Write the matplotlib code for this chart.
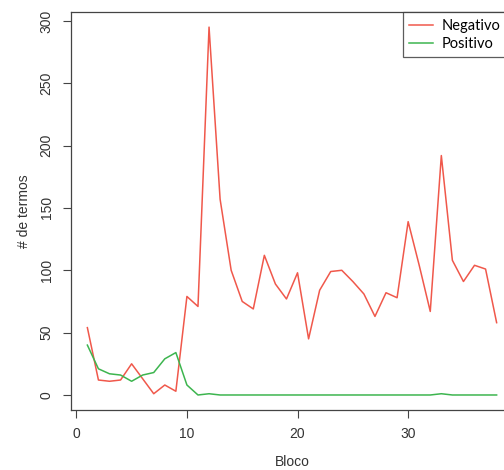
import matplotlib
matplotlib.use("Agg")
import matplotlib.pyplot as plt

# blocos 1..38
blocos = list(range(1, 39))
negativo = [54, 12, 11, 12, 25, 13, 1, 8, 3, 79,
            71, 295, 157, 100, 75, 69, 112, 89, 77, 98,
            45, 84, 99, 100, 91, 81, 63, 82, 78, 139,
            104, 67, 192, 108, 91, 104, 101, 58]
positivo = [40, 21, 17, 16, 11, 16, 18, 29, 34, 8,
            0, 1, 0, 0, 0, 0, 0, 0, 0, 0,
            0, 0, 0, 0, 0, 0, 0, 0, 0, 0,
            0, 0, 1, 0, 0, 0, 0, 0]

NEG_COLOR = "#F0584B"
POS_COLOR = "#3DB54F"

plt.rcParams["font.family"] = ["Liberation Sans", "DejaVu Sans"]

fig = plt.figure(figsize=(5.04, 4.70), dpi=100)
ax = fig.add_axes([71 / 504, 1 - 409.7 / 470, (513 - 71) / 504, (409.7 - 12.4) / 470])

ax.plot(blocos, negativo, "-", color=NEG_COLOR, lw=1.1, label="Negativo")
ax.plot(blocos, positivo, "-", color=POS_COLOR, lw=1.1, label="Positivo")

ax.set_xlim(-0.48, 39.48)
ax.set_ylim(-11.8, 306.8)
ax.set_xticks([0, 10, 20, 30])
ax.set_yticks([0, 50, 100, 150, 200, 250, 300])
ax.tick_params(direction="out", length=5.5, width=0.8, color="#444444",
               labelsize=10, labelcolor="#333333", pad=7)
for lab in ax.get_yticklabels():
    lab.set_rotation(90)
    lab.set_va("center")
for sp in ax.spines.values():
    sp.set_color("#444444")
    sp.set_linewidth(0.9)

ax.set_xlabel("Bloco", fontsize=10, color="#333333", labelpad=10)
ax.set_ylabel("# de termos", fontsize=10, color="#333333", labelpad=6)

leg = ax.legend(loc="upper right", bbox_to_anchor=((507 - 71) / 442, 1.0), frameon=True,
                fancybox=False, edgecolor="#333333", borderaxespad=0,
                handlelength=1.6, handletextpad=0.6, labelspacing=0.25,
                borderpad=0.45, prop={"family": "Lato", "size": 10.5})
leg.get_frame().set_linewidth(0.9)

fig.savefig("out.png", dpi=100)
